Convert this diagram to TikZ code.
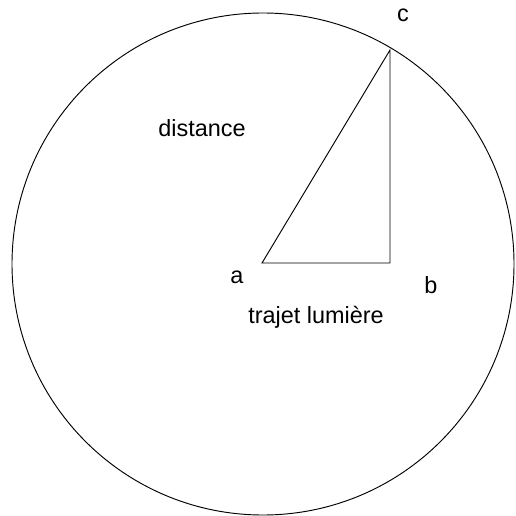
\documentclass[tikz,border=0pt]{standalone}
\usepackage{fontspec}
\setmainfont{Liberation Sans}
\usetikzlibrary{positioning}

\begin{document}
\begin{tikzpicture}[
  x=0.03cm, y=-0.03cm,
  shape line/.style = {line width=0.8pt},
  label text/.style = {font=\fontsize{20}{20}\selectfont, inner sep=0pt}
]
  \useasboundingbox (0,0) rectangle (516,516);

  % Circle
  \draw[shape line] (263,264) circle (251);

  % Corners
  \coordinate (a) at (262,263);
  \coordinate (b) at (390,263);
  \coordinate (c) at (390,50);

  % Triangle
  \draw[shape line] (a) -- (b) -- (c) -- cycle;

  % Labels
  \node[label text] (alabel) at (237,277) {a};
  \node[label text] (blabel) at (431,285) {b};
  \node[label text] (clabel) at (403,15) {c};
  \node[label text] (distance) at (202,128) {distance};
  \node[label text] (trajet) at (316,317) {trajet lumière};
\end{tikzpicture}
\end{document}
